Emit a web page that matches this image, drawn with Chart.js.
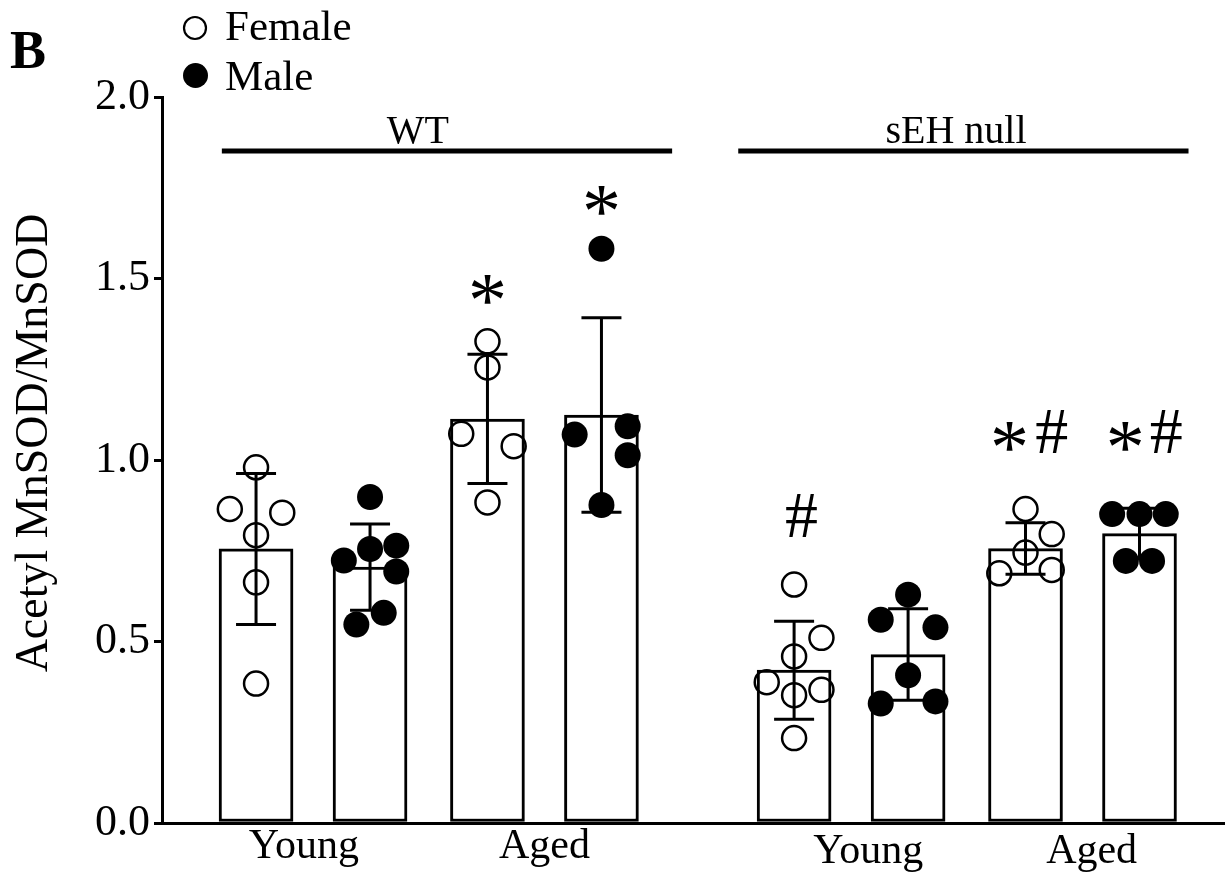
<!DOCTYPE html>
<html>
<head>
<meta charset="utf-8">
<script src="https://cdn.jsdelivr.net/npm/chart.js@4.4.1/dist/chart.umd.min.js"></script>
<style>
  html, body { margin: 0; padding: 0; background: #fff; }
  canvas { display: block; }
</style>
</head>
<body>
<canvas id="c" width="1225" height="873"></canvas>
<script>
// ---------- data ----------
const barPositions = [0, 1, 2.03, 3.03, 4.72, 5.72, 6.75, 7.75];
const barMeans = [0.755, 0.705, 1.113, 1.124, 0.421, 0.464, 0.756, 0.797];
const barSD = [0.208, 0.119, 0.178, 0.268, 0.135, 0.126, 0.071, 0.070];

// female points for bars 0,2,4,6 ; male points for bars 1,3,5,7
const femaleBars = [0, 2, 4, 6];
const femaleValues = [
  [0.980, 0.865, 0.855, 0.793, 0.663, 0.384],
  [1.327, 1.255, 1.072, 1.038, 0.883],
  [0.657, 0.510, 0.459, 0.388, 0.352, 0.367, 0.234],
  [0.865, 0.796, 0.745, 0.688, 0.697]
];
const femaleJitter = [
  [0, -0.23, 0.23, 0, 0, 0],
  [0, 0, -0.23, 0.23, 0],
  [0, 0.24, 0, -0.24, 0, 0.24, 0],
  [0, 0.23, 0, -0.23, 0.23]
];
const maleBars = [1, 3, 5, 7];
const maleValues = [
  [0.898, 0.755, 0.764, 0.723, 0.693, 0.579, 0.547],
  [1.582, 1.070, 1.093, 1.013, 0.876],
  [0.629, 0.560, 0.539, 0.407, 0.329, 0.335],
  [0.851, 0.851, 0.851, 0.722, 0.722]
];
const maleJitter = [
  [0, 0, 0.23, -0.23, 0.23, 0.12, -0.12],
  [0, -0.235, 0.23, 0.23, 0],
  [0, -0.24, 0.24, 0, -0.24, 0.24],
  [-0.24, 0, 0.23, -0.12, 0.11]
];

const yTicks = [0, 0.5, 1.0, 1.5, 2.0];
const yTitle = 'Acetyl MnSOD/MnSOD';

const ageLabels = ['Young', 'Aged', 'Young', 'Aged'];
const ageLabelX = [0.42, 2.53, 5.37, 7.33];

const groupNames = ['WT', 'sEH null'];
const groupStart = [-0.30, 4.23];
const groupEnd = [3.65, 8.18];
const groupLabelX = [1.42, 6.14];
const groupLineY = 1.851;

// significance marks: glyph, bar index, x offset (bar units), y (data units)
const markGlyphs = ['*', '*', '#', '*', '#', '*', '#'];
const markBars = [2, 3, 4, 6, 6, 7, 7];
const markDx = [0, 0, 0.066, -0.14, 0.23, -0.125, 0.235];
const markY = [1.471, 1.716, 0.846, 1.064, 1.078, 1.064, 1.078];

const legendLabels = ['Female', 'Male'];
const panelLetter = 'B';

// ---------- build ----------
const femalePts = [], malePts = [];
femaleBars.forEach((b, k) => femaleValues[k].forEach((v, j) =>
  femalePts.push({ x: barPositions[b] + femaleJitter[k][j], y: v })));
maleBars.forEach((b, k) => maleValues[k].forEach((v, j) =>
  malePts.push({ x: barPositions[b] + maleJitter[k][j], y: v })));

const SERIF = "'Liberation Serif', 'Times New Roman', serif";

function drawGlyphCentered(ctx, glyph, cx, cy, size) {
  ctx.font = size + 'px ' + SERIF;
  ctx.textAlign = 'center';
  ctx.textBaseline = 'alphabetic';
  const m = ctx.measureText(glyph);
  const gy = cy + (m.actualBoundingBoxAscent - m.actualBoundingBoxDescent) / 2;
  ctx.fillText(glyph, cx, gy);
}

const overlay = {
  id: 'overlay',
  afterDatasetDraw(chart, args) {
    if (args.index !== 0) return;
    const ctx = chart.ctx, xs = chart.scales.x, ys = chart.scales.y;
    ctx.save();
    ctx.strokeStyle = '#000';
    ctx.lineWidth = 3;
    barPositions.forEach((p, i) => {
      const x = xs.getPixelForValue(p);
      const yt = ys.getPixelForValue(barMeans[i] + barSD[i]);
      const yb = ys.getPixelForValue(barMeans[i] - barSD[i]);
      ctx.beginPath();
      ctx.moveTo(x, yb); ctx.lineTo(x, yt);
      ctx.moveTo(x - 20, yt); ctx.lineTo(x + 20, yt);
      ctx.moveTo(x - 20, yb); ctx.lineTo(x + 20, yb);
      ctx.stroke();
    });
    ctx.restore();
  },
  afterDraw(chart) {
    const ctx = chart.ctx, xs = chart.scales.x, ys = chart.scales.y;
    ctx.save();
    ctx.fillStyle = '#000';
    ctx.strokeStyle = '#000';

    // group lines + labels
    const gy = ys.getPixelForValue(groupLineY);
    ctx.lineWidth = 5;
    groupNames.forEach((g, i) => {
      ctx.beginPath();
      ctx.moveTo(xs.getPixelForValue(groupStart[i]), gy);
      ctx.lineTo(xs.getPixelForValue(groupEnd[i]), gy);
      ctx.stroke();
      ctx.font = '40px ' + SERIF;
      ctx.textAlign = 'center';
      ctx.textBaseline = 'alphabetic';
      ctx.fillText(g, xs.getPixelForValue(groupLabelX[i]), gy - 8);
    });

    // age labels under axis
    ctx.font = '42px ' + SERIF;
    ctx.textAlign = 'center';
    ctx.textBaseline = 'alphabetic';
    ageLabels.forEach((t, i) => {
      const base = chart.chartArea.bottom + (i < 2 ? 35 : 40);
      ctx.fillText(t, xs.getPixelForValue(ageLabelX[i]), base);
    });

    // significance marks
    markGlyphs.forEach((g, i) => {
      const cx = xs.getPixelForValue(barPositions[markBars[i]] + markDx[i]);
      const cy = ys.getPixelForValue(markY[i]);
      drawGlyphCentered(ctx, g, cx, cy, g === '*' ? 78 : 66);
    });

    // y title
    ctx.save();
    ctx.translate(47, 443);
    ctx.rotate(-Math.PI / 2);
    ctx.font = '46px ' + SERIF;
    ctx.textAlign = 'center';
    ctx.textBaseline = 'alphabetic';
    ctx.fillText(yTitle, 0, 0);
    ctx.restore();

    // legend
    ctx.lineWidth = 2.2;
    ctx.beginPath();
    ctx.arc(195, 28, 11, 0, Math.PI * 2);
    ctx.stroke();
    ctx.beginPath();
    ctx.arc(195.5, 75.5, 12.5, 0, Math.PI * 2);
    ctx.fill();
    ctx.font = '43px ' + SERIF;
    ctx.textAlign = 'left';
    ctx.textBaseline = 'alphabetic';
    ctx.fillText(legendLabels[0], 225, 40);
    ctx.fillText(legendLabels[1], 225, 90);

    // panel letter
    ctx.font = 'bold 54px ' + SERIF;
    ctx.fillText(panelLetter, 10, 68);
    ctx.restore();
  }
};

new Chart(document.getElementById('c'), {
  type: 'bar',
  data: {
    datasets: [
      {
        type: 'bar', label: 'Mean',
        data: barPositions.map((x, i) => ({ x: x, y: barMeans[i] })),
        backgroundColor: '#fff', borderColor: '#000', borderWidth: 3,
        borderSkipped: false, barThickness: 74, order: 3
      },
      {
        type: 'scatter', label: legendLabels[0], data: femalePts,
        pointRadius: 12, pointBorderWidth: 2.5,
        pointBackgroundColor: 'rgba(0,0,0,0)', pointBorderColor: '#000', order: 2
      },
      {
        type: 'scatter', label: legendLabels[1], data: malePts,
        pointRadius: 13, pointBorderWidth: 0,
        pointBackgroundColor: '#000', pointBorderColor: '#000', order: 1
      }
    ]
  },
  options: {
    responsive: false,
    animation: false,
    layout: { autoPadding: false, padding: { top: 97, left: 0, right: 0, bottom: 0 } },
    plugins: { legend: { display: false }, tooltip: { enabled: false } },
    scales: {
      x: {
        type: 'linear', min: -0.825, max: 8.5, offset: false,
        ticks: { display: false },
        grid: { display: false, offset: false },
        border: { display: true, color: '#000', width: 3 },
        afterFit(s) { s.height = 50; s.paddingRight = 0; s.paddingLeft = 0; }
      },
      y: {
        min: 0, max: 2,
        afterBuildTicks(s) { s.ticks = yTicks.map(v => ({ value: v })); },
        ticks: {
          font: { family: 'Liberation Serif', size: 44 }, color: '#000', padding: 4,
          callback: v => Number(v).toFixed(1)
        },
        grid: { drawOnChartArea: false, drawTicks: true, tickLength: 8, color: '#000', lineWidth: 3 },
        border: { display: true, color: '#000', width: 3 },
        afterFit(s) { s.width = 162; }
      }
    }
  },
  plugins: [overlay]
});
</script>
</body>
</html>
